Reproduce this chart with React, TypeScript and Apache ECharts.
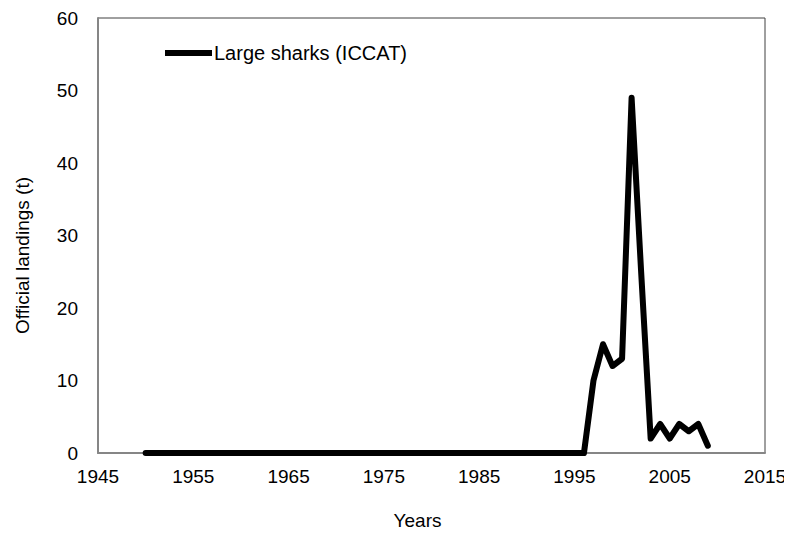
import React, { useEffect, useRef } from "react";
import * as echarts from "echarts";

const years: number[] = [];
for (let y = 1950; y <= 2009; y++) years.push(y);

// Official landings (t), 1950–2009
const landings: number[] = [
  0, 0, 0, 0, 0, 0, 0, 0, 0, 0, // 1950-1959
  0, 0, 0, 0, 0, 0, 0, 0, 0, 0, // 1960-1969
  0, 0, 0, 0, 0, 0, 0, 0, 0, 0, // 1970-1979
  0, 0, 0, 0, 0, 0, 0, 0, 0, 0, // 1980-1989
  0, 0, 0, 0, 0, 0, 0, 10, 15, 12, // 1990-1999
  13, 49, 25, 2, 4, 2, 4, 3, 4, 1, // 2000-2009
];

const seriesName = "Large sharks (ICCAT)";
const xTitle = "Years";
const yTitle = "Official landings (t)";

export default function App() {
  const ref = useRef<HTMLDivElement>(null);
  useEffect(() => {
    if (!ref.current) return;
    const chart = echarts.init(ref.current, null, { renderer: "svg" });
    const font = "'Liberation Sans', Arial, sans-serif";
    const fs = 19;
    chart.setOption({
      animation: false,
      backgroundColor: "#ffffff",
      textStyle: { fontFamily: font },
      grid: {
        left: 98,
        right: 27,
        top: 18,
        bottom: 81,
        show: true,
        borderColor: "#404040",
        borderWidth: 1,
      },
      legend: {
        left: 160,
        top: 38,
        itemWidth: 47,
        itemHeight: 14,
        itemGap: 4,
        data: [{ name: seriesName, icon: "path://M0,0H46V6H0Z" }],
        textStyle: { fontSize: 20, color: "#000", fontFamily: font, padding: [0, 0, 0, -3] },
      },
      xAxis: {
        type: "value",
        min: 1945,
        max: 2015,
        interval: 10,
        name: xTitle,
        nameLocation: "middle",
        nameGap: 58,
        nameTextStyle: { fontSize: fs, color: "#000", fontFamily: font, padding: [0, 28, 0, 0] },
        axisLine: { show: true, lineStyle: { color: "#868686", width: 2 } },
        axisTick: { show: false },
        splitLine: { show: false },
        axisLabel: {
          fontSize: fs,
          color: "#000",
          margin: 14,
          fontFamily: font,
          formatter: (v: number) => String(v),
        },
      },
      yAxis: {
        type: "value",
        min: 0,
        max: 60,
        interval: 10,
        name: yTitle,
        nameLocation: "middle",
        nameGap: 66,
        nameTextStyle: { fontSize: fs, color: "#000", fontFamily: font, padding: [0, 40, 0, 0] },
        axisLine: { show: true, lineStyle: { color: "#868686", width: 2 } },
        axisTick: { show: false },
        splitLine: { show: false },
        axisLabel: { fontSize: fs, color: "#000", margin: 20, fontFamily: font },
      },
      series: [
        {
          name: seriesName,
          type: "line",
          data: years.map((y, i) => [y, landings[i]]),
          symbol: "none",
          lineStyle: { color: "#000", width: 6, cap: "round", join: "round" },
          itemStyle: { color: "#000" },
        },
      ],
    });
    return () => chart.dispose();
  }, []);
  return <div ref={ref} style={{ width: 792, height: 535, margin: -8 }} />;
}
